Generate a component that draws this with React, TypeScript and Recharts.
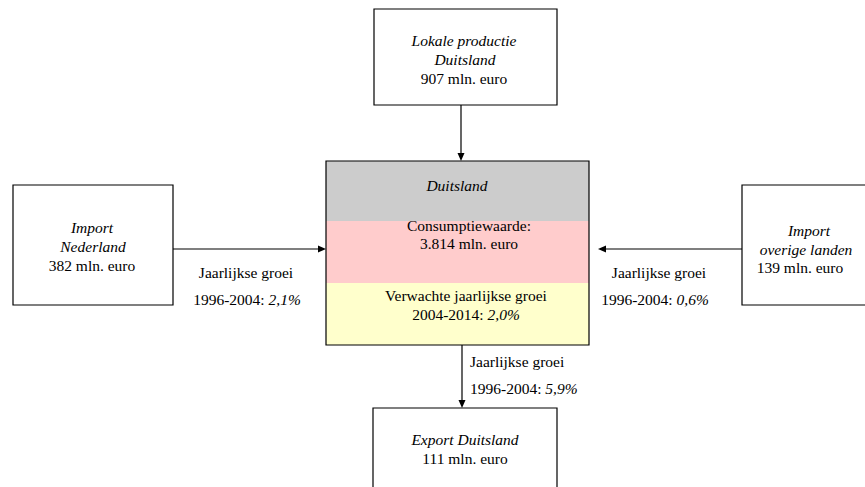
import { ComposedChart, XAxis, YAxis, ReferenceArea, ReferenceLine, Scatter } from 'recharts';

const FONT = "'Liberation Serif', 'Times New Roman', Times, serif";
const W = 865;
const H = 487;

// flows into / out of the German market
const sourceNames = [['Lokale productie', 'Duitsland'], ['Import', 'Nederland'], ['Import', 'overige landen']];
const sourceValues = [907, 382, 139];
const marketName = 'Duitsland';
const consumptionValue = 3814;
const forecastPeriod = '2004-2014';
const forecastGrowth = 2.0;
const exportName = 'Export Duitsland';
const exportValue = 111;
const growthPeriod = '1996-2004';
const growthRates = [2.1, 0.6, 5.9]; // Nederland, overige landen, export

const fmtInt = (n: number) => n.toString().replace(/\B(?=(\d{3})+(?!\d))/g, '.');
const fmtPct = (n: number) => n.toFixed(1).replace('.', ',') + '%';
const mln = (n: number) => `${fmtInt(n)} mln. euro`;

// layout (pixel space of the diagram)
const boxes = {
  top: { x1: 374, x2: 557, y1: 9, y2: 105 },
  left: { x1: 13, x2: 173, y1: 185, y2: 305 },
  right: { x1: 742, x2: 905, y1: 185, y2: 305 },
  bottom: { x1: 373, x2: 557, y1: 408, y2: 520 },
  center: { x1: 326, x2: 589, y1: 161, y2: 345 },
};
const bands = [
  { y1: 161, y2: 221, fill: '#cccccc' },
  { y1: 221, y2: 283, fill: '#ffcccc' },
  { y1: 283, y2: 345, fill: '#ffffcc' },
];
const arrows = [
  [{ x: 461, y: 105 }, { x: 461, y: 161 }],
  [{ x: 173, y: 249 }, { x: 326, y: 249 }],
  [{ x: 742, y: 249 }, { x: 598, y: 249 }],
  [{ x: 462, y: 345 }, { x: 462, y: 408 }],
];

type Seg = { t: string; i?: boolean };
type TextItem = { x: number; y: number; anchor?: string; segs: Seg[] };

const texts: TextItem[] = [
  { x: 464, y: 41, segs: [{ t: sourceNames[0][0], i: true }] },
  { x: 465, y: 60, segs: [{ t: sourceNames[0][1], i: true }] },
  { x: 464, y: 79, segs: [{ t: mln(sourceValues[0]) }] },

  { x: 92, y: 228, segs: [{ t: sourceNames[1][0], i: true }] },
  { x: 93, y: 247, segs: [{ t: sourceNames[1][1], i: true }] },
  { x: 92, y: 266, segs: [{ t: mln(sourceValues[1]) }] },

  { x: 809, y: 231, segs: [{ t: sourceNames[2][0], i: true }] },
  { x: 806, y: 250, segs: [{ t: sourceNames[2][1], i: true }] },
  { x: 800, y: 268, segs: [{ t: mln(sourceValues[2]) }] },

  { x: 457, y: 186, segs: [{ t: marketName, i: true }] },
  { x: 469, y: 226, segs: [{ t: 'Consumptiewaarde:' }] },
  { x: 469, y: 244, segs: [{ t: mln(consumptionValue) }] },
  { x: 466, y: 296, segs: [{ t: 'Verwachte jaarlijkse groei' }] },
  { x: 466, y: 315, segs: [{ t: `${forecastPeriod}: ` }, { t: fmtPct(forecastGrowth), i: true }] },

  { x: 465, y: 440, segs: [{ t: exportName, i: true }] },
  { x: 465, y: 459, segs: [{ t: mln(exportValue) }] },

  { x: 246, y: 273, segs: [{ t: 'Jaarlijkse groei' }] },
  { x: 247, y: 300, segs: [{ t: `${growthPeriod}: ` }, { t: fmtPct(growthRates[0]), i: true }] },
  { x: 659, y: 273, segs: [{ t: 'Jaarlijkse groei' }] },
  { x: 655, y: 300, segs: [{ t: `${growthPeriod}: ` }, { t: fmtPct(growthRates[1]), i: true }] },
  { x: 470, y: 362, anchor: 'start', segs: [{ t: 'Jaarlijkse groei' }] },
  { x: 470, y: 389, anchor: 'start', segs: [{ t: `${growthPeriod}: ` }, { t: fmtPct(growthRates[2]), i: true }] },
];

const Arrow = (props: any) => {
  const { x1, y1, x2, y2 } = props;
  const dx = x2 - x1;
  const dy = y2 - y1;
  const len = Math.sqrt(dx * dx + dy * dy) || 1;
  const ux = dx / len;
  const uy = dy / len;
  const hl = 8;
  const hw = 3.5;
  const bx = x2 - ux * hl;
  const by = y2 - uy * hl;
  const pts = `${x2},${y2} ${bx - uy * hw},${by + ux * hw} ${bx + uy * hw},${by - ux * hw}`;
  return (
    <g>
      <line x1={x1} y1={y1} x2={bx} y2={by} stroke="#000" strokeWidth={1.2} />
      <polygon points={pts} fill="#000" />
    </g>
  );
};

const TextShape = (props: any) => {
  const { cx, cy, payload } = props;
  return (
    <text
      x={cx}
      y={cy + 5}
      textAnchor={payload.anchor || 'middle'}
      style={{ fontFamily: FONT, fontSize: 15.5 }}
      fill="#000"
    >
      {payload.segs.map((s: Seg, i: number) => (
        <tspan key={i} style={{ fontStyle: s.i ? 'italic' : 'normal' }}>
          {s.t}
        </tspan>
      ))}
    </text>
  );
};

const boxStyle = { fill: '#fff', fillOpacity: 1, stroke: '#000', strokeWidth: 1.2 };

export default function App() {
  return (
    <div style={{ position: 'absolute', left: 0, top: 0, width: W, height: H, background: '#fff', fontFamily: FONT }}>
      <ComposedChart width={W} height={H} margin={{ top: 0, right: 0, bottom: 0, left: 0 }} style={{ fontFamily: FONT }}>
        <XAxis type="number" dataKey="x" domain={[0, W]} hide allowDataOverflow />
        <YAxis type="number" dataKey="y" domain={[0, H]} reversed hide allowDataOverflow />

        {[boxes.top, boxes.left, boxes.right, boxes.bottom].map((b, i) => (
          <ReferenceArea key={`box-${i}`} {...b} ifOverflow="visible" {...boxStyle} />
        ))}
        {bands.map((b, i) => (
          <ReferenceArea
            key={`band-${i}`}
            x1={boxes.center.x1}
            x2={boxes.center.x2}
            y1={b.y1}
            y2={b.y2}
            ifOverflow="visible"
            fill={b.fill}
            fillOpacity={1}
            stroke="none"
          />
        ))}
        <ReferenceArea {...boxes.center} ifOverflow="visible" fill="none" stroke="#000" strokeWidth={1.2} />

        {arrows.map((seg, i) => (
          <ReferenceLine key={`arrow-${i}`} segment={seg} ifOverflow="visible" shape={Arrow} />
        ))}

        <Scatter data={texts} dataKey="y" shape={TextShape} isAnimationActive={false} />
      </ComposedChart>
    </div>
  );
}
